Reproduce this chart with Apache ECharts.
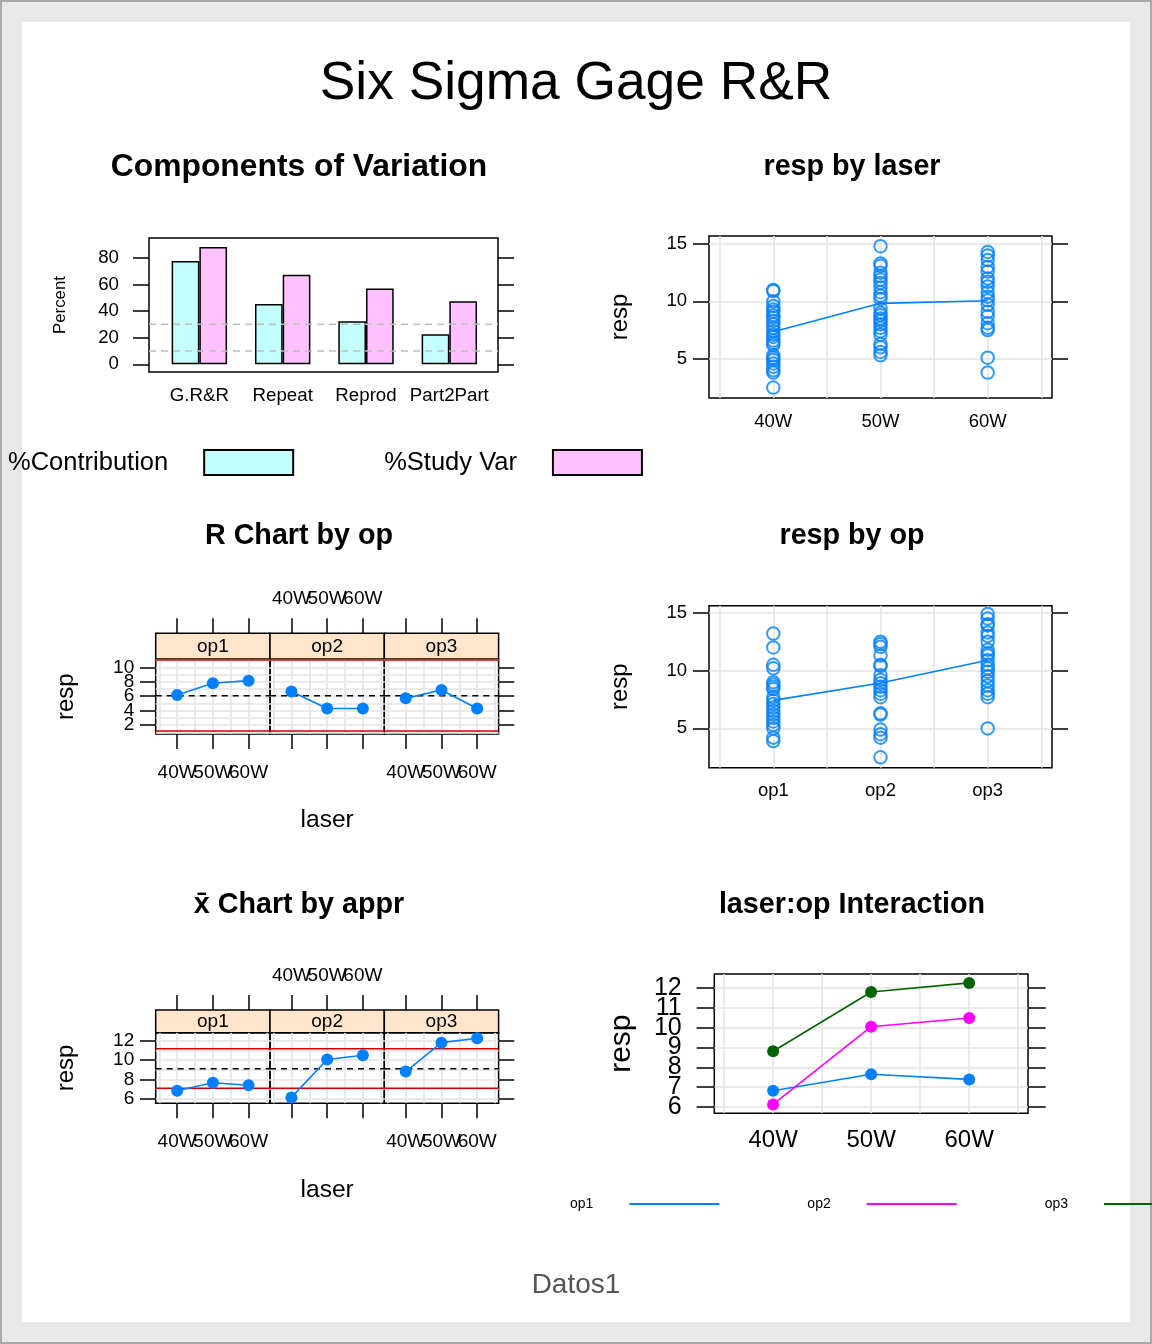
<!DOCTYPE html>
<html><head><meta charset="utf-8">
<script src="https://cdn.jsdelivr.net/npm/echarts@6/dist/echarts.min.js"></script>
<style>
html,body{margin:0;padding:0;background:#e8e8e8;overflow:hidden}
#frame{position:absolute;left:0;top:0;width:1152px;height:1344px;box-sizing:border-box;border:2px solid #a9a9a9;background:#e8e8e8}
#sheet{position:absolute;left:22px;top:22px;width:1108px;height:1300px;background:#fff}
#chart{position:absolute;left:0;top:0;width:1152px;height:1344px}
</style></head>
<body><div id="frame"></div><div id="sheet"></div><div id="chart"></div>
<script>
// ---------------- data ----------------
const componentCats = ['G.R&R', 'Repeat', 'Reprod', 'Part2Part'];
const contribution = [77.5, 45.2, 32.3, 22.5];
const studyVar = [88.0, 67.2, 56.8, 47.4];
const refLines = [10, 30];
const percentTicks = [0, 20, 40, 60, 80];

const lasers = ['40W', '50W', '60W'];
const ops = ['op1', 'op2', 'op3'];

const resp40W = [11.0, 10.9, 10.0, 9.6, 9.3, 9.1, 8.8, 8.6, 8.3, 8.0, 7.7, 7.4, 7.1, 6.9, 6.6, 6.4, 6.2, 5.3, 5.1, 4.9, 4.6, 4.3, 4.0, 3.8, 2.5];
const resp50W = [14.8, 13.3, 13.1, 12.5, 12.2, 11.9, 11.6, 11.2, 10.8, 10.5, 10.2, 9.4, 9.0, 8.8, 8.5, 8.3, 8.0, 7.7, 7.4, 7.1, 6.3, 6.0, 5.6, 5.3];
const resp60W = [14.3, 14.0, 13.6, 13.0, 12.6, 12.0, 11.7, 11.3, 10.8, 10.4, 10.1, 9.7, 9.1, 8.7, 8.1, 7.7, 7.5, 5.1, 3.8];
const laserMeans = [7.36, 9.83, 10.05];

const respOp1 = [13.2, 12.0, 10.5, 10.2, 9.0, 8.8, 8.6, 8.4, 7.7, 7.4, 7.1, 6.8, 6.5, 6.2, 5.9, 5.6, 5.3, 5.0, 4.2, 3.9];
const respOp2 = [12.5, 12.3, 12.05, 11.3, 10.5, 10.4, 9.6, 9.2, 8.9, 8.6, 8.3, 8.0, 7.7, 6.3, 6.2, 4.9, 4.5, 4.2, 2.5];
const respOp3 = [14.9, 14.5, 14.0, 13.9, 13.3, 13.0, 12.5, 11.8, 11.5, 11.3, 10.9, 10.5, 10.2, 9.9, 9.5, 9.1, 8.7, 8.3, 8.0, 7.7, 5.0];
const opMeans = [7.42, 8.93, 10.9];
const respTicks = [5, 10, 15];

const rangeOp1 = [6.15, 7.8, 8.15];
const rangeOp2 = [6.65, 4.3, 4.3];
const rangeOp3 = [5.7, 6.85, 4.3];
const rLimits = [1.17, 6.05, 11.0];   // LCL, center, UCL
const rTicks = [2, 4, 6, 8, 10];
const rGrid = [1, 2, 3, 4, 5, 6, 7, 8, 9, 10, 11];

const meanOp1 = [6.82, 7.65, 7.39];
const meanOp2 = [6.13, 10.05, 10.49];
const meanOp3 = [8.81, 11.8, 12.26];
const xbarLimits = [7.09, 9.1, 11.17]; // LCL, center, UCL
const xbarTicks = [6, 8, 10, 12];
const xbarGrid = [6, 7, 8, 9, 10, 11, 12];
const interTicks = [6, 7, 8, 9, 10, 11, 12];

const laserPos = [1, 2, 3];
const halfGrid = [0.5, 1, 1.5, 2, 2.5, 3, 3.5];

// ---------------- styling helpers ----------------
const FONT = "'Liberation Sans', Arial, Helvetica, sans-serif";
const BLUE = '#0080ff', MAGENTA = '#ff00ff', DKGREEN = '#006400', RED = '#cd0000', GRIDC = '#e3e3e3';
const CYAN = '#c4ffff', PINK = '#ffc2ff';

const grids = [], xAxis = [], yAxis = [], series = [], gfx = [];
function addGrid(l, t, w, h, extra) {
  grids.push(Object.assign({left: l, top: t, width: w, height: h, containLabel: false, outerBoundsMode: 'none', show: false}, extra || {}));
  return grids.length - 1;
}
function frameGrid(l, t, w, h, extra) {
  return addGrid(l, t, w, h, Object.assign({show: true, borderColor: '#000', borderWidth: 1.5, backgroundColor: 'transparent'}, extra || {}));
}
function baseAxis(g, min, max, o, labelVals) {
  const ax = {
    type: 'value', gridIndex: g, min: min, max: max,
    axisLine: {show: false, onZero: false},
    axisTick: {show: !!o.ticks, length: o.tickLen || 16, inside: false, lineStyle: {color: '#000', width: 1.5}},
    axisLabel: {show: !!labelVals, margin: o.margin || 8, fontSize: o.fs || 18, color: '#000', fontFamily: FONT,
      hideOverlap: false, showMinLabel: true, showMaxLabel: true},
    splitLine: {show: !!o.gridVals, lineStyle: {color: GRIDC, width: 1.5}}
  };
  const tv = o.ticks || o.gridVals;
  if (tv) ax.axisTick.customValues = tv;
  if (labelVals) ax.axisLabel.customValues = labelVals;
  if (o.fmt) ax.axisLabel.formatter = o.fmt;
  if (o.pos) ax.position = o.pos;
  return ax;
}
// labels are spread over two axes (alternating) so that touching labels are never auto-hidden
function addAxis(list, g, min, max, o) {
  o = o || {};
  const lv = o.labelVals;
  const even = lv ? lv.filter((v, i) => i % 2 === 0) : null;
  const odd = lv ? lv.filter((v, i) => i % 2 === 1) : [];
  const ax = baseAxis(g, min, max, o, even);
  if (o.name) {
    ax.name = o.name; ax.nameLocation = 'middle'; ax.nameGap = o.nameGap;
    if (o.nameRotate != null) ax.nameRotate = o.nameRotate;
    ax.nameTextStyle = {fontSize: o.nameFs, color: '#000', fontFamily: FONT};
  }
  list.push(ax);
  const idx = list.length - 1;
  if (odd.length) {
    list.push(baseAxis(g, min, max, {pos: o.pos, margin: o.margin, fs: o.fs, fmt: o.fmt}, odd));
  }
  return idx;
}
function text(x, y, str, size, weight, color) {
  gfx.push({type: 'text', x: x, y: y, z: 100, silent: true,
    style: {text: str, fill: color || '#000', fontSize: size, fontFamily: FONT, fontWeight: weight || 'normal', textAlign: 'center', textVerticalAlign: 'middle'}});
}
const laserFmt = v => lasers[Math.round(v) - 1];
const opFmt = v => ops[Math.round(v) - 1];

// ---------------- titles ----------------
text(576, 84, 'Six Sigma Gage R&R', 53.3);
text(299, 167, 'Components of Variation', 31.8, 'bold');
text(852, 167, 'resp by laser', 28.7, 'bold');
text(299, 536, 'R Chart by op', 28.7, 'bold');
text(852, 536, 'resp by op', 28.7, 'bold');
text(299, 905, 'x\u0304 Chart by appr', 28.7, 'bold');
text(852, 905, 'laser:op Interaction', 28.7, 'bold');
text(576, 1285, 'Datos1', 28, 'normal', '#555555');

// ---------------- components of variation ----------------
(function () {
  const yMin = -5.8, yMax = 94.8;
  const g = frameGrid(149, 238, 349, 134);
  const fx = addAxis(xAxis, g, 0, 1, {pos: 'bottom'});
  const fy = addAxis(yAxis, g, yMin, yMax, {pos: 'left', ticks: percentTicks, labelVals: percentTicks, margin: 30, fs: 18.7,
    name: 'Percent', nameGap: 80, nameRotate: 90, nameFs: 16.8});
  addAxis(yAxis, g, yMin, yMax, {pos: 'right', ticks: percentTicks});
  const b = addGrid(157.7, 238, 333.3, 134);
  xAxis.push({type: 'category', gridIndex: b, position: 'bottom', data: componentCats,
    axisLine: {show: false, onZero: false}, axisTick: {show: false},
    axisLabel: {interval: 0, margin: 14.6, fontSize: 18.7, color: '#000', fontFamily: FONT, showMinLabel: true, showMaxLabel: true},
    splitLine: {show: false}});
  const bx = xAxis.length - 1;
  const by = addAxis(yAxis, b, yMin, yMax, {pos: 'left'});
  series.push({type: 'bar', name: '%Contribution', xAxisIndex: bx, yAxisIndex: by, data: contribution, barWidth: 27.7, barGap: '0%',
    itemStyle: {color: CYAN, borderColor: '#000', borderWidth: 1.5}});
  series.push({type: 'bar', name: '%Study Var', xAxisIndex: bx, yAxisIndex: by, data: studyVar, barWidth: 27.7, barGap: '0%',
    itemStyle: {color: PINK, borderColor: '#000', borderWidth: 1.5}});
  refLines.forEach(v => series.push({type: 'line', xAxisIndex: fx, yAxisIndex: fy, data: [[0, v], [1, v]], symbol: 'none', z: 5,
    lineStyle: {color: '#bebebe', width: 1.5, type: [7, 5]}}));
})();

// ---------------- scatter panels ----------------
function scatterPanel(top, yMin, yMax, cats, fmt, groups, means) {
  const g = frameGrid(709, top, 343, 162);
  addAxis(xAxis, g, 0.4, 3.6, {pos: 'top', gridVals: halfGrid});
  const xl = addAxis(xAxis, g, 0.4, 3.6, {pos: 'bottom', labelVals: laserPos, fmt: fmt, margin: 14, fs: 18.5});
  const yl = addAxis(yAxis, g, yMin, yMax, {pos: 'left', ticks: respTicks, labelVals: respTicks, margin: 22, fs: 18.5,
    name: 'resp', nameGap: 77, nameRotate: 90, nameFs: 24});
  addAxis(yAxis, g, yMin, yMax, {pos: 'right', ticks: respTicks});
  addAxis(yAxis, g, yMin, yMax, {pos: 'right', gridVals: respTicks});
  groups.forEach((arr, i) => series.push({type: 'scatter', xAxisIndex: xl, yAxisIndex: yl, data: arr.map(v => [laserPos[i], v]),
    symbol: 'circle', symbolSize: 12.5, z: 3,
    itemStyle: {color: 'rgba(0,0,0,0)', borderColor: BLUE, borderWidth: 2}}));
  series.push({type: 'line', xAxisIndex: xl, yAxisIndex: yl, data: means.map((v, i) => [laserPos[i], v]), symbol: 'none', z: 4,
    lineStyle: {color: BLUE, width: 1.6}});
}
scatterPanel(236, 1.59, 15.69, lasers, laserFmt, [resp40W, resp50W, resp60W], laserMeans);
scatterPanel(605.7, 1.6, 15.61, ops, opFmt, [respOp1, respOp2, respOp3], opMeans);

// ---------------- control chart panels ----------------
function controlPanels(stripTop, stripH, panelTop, panelH, yMin, yMax, yTicks, yGrid, lims, dataByOp) {
  const lefts = [155.7, 270, 384.3], w = 114.3;
  ops.forEach((op, i) => {
    const s = frameGrid(lefts[i], stripTop, w, stripH, {backgroundColor: '#ffe5cc'});
    addAxis(xAxis, s, 0.4, 3.6, {pos: 'top', ticks: laserPos, tickLen: 15,
      labelVals: i === 1 ? laserPos : null, fmt: laserFmt, margin: 25, fs: 19});
    addAxis(yAxis, s, 0, 1, {pos: 'left'});
    text(lefts[i] + w / 2, stripTop + stripH / 2, op, 19);

    const g = frameGrid(lefts[i], panelTop, w, panelH);
    addAxis(xAxis, g, 0.4, 3.6, {pos: 'top', gridVals: halfGrid});
    const xb = addAxis(xAxis, g, 0.4, 3.6, {pos: 'bottom', ticks: laserPos, tickLen: 15,
      labelVals: i !== 1 ? laserPos : null, fmt: laserFmt, margin: 29, fs: 19,
      name: i === 1 ? 'laser' : null, nameGap: 74, nameFs: 24.6});
    addAxis(yAxis, g, yMin, yMax, {pos: 'right', gridVals: yGrid});
    const yv = addAxis(yAxis, g, yMin, yMax, {pos: 'left', ticks: i === 0 ? yTicks : null, labelVals: i === 0 ? yTicks : null,
      tickLen: 15.7, margin: 21.5, fs: 19, name: i === 0 ? 'resp' : null, nameGap: 77, nameRotate: 90, nameFs: 24});
    if (i === 2) addAxis(yAxis, g, yMin, yMax, {pos: 'right', ticks: yTicks, tickLen: 15.7});
    lims.forEach((v, k) => series.push({type: 'line', xAxisIndex: xb, yAxisIndex: yv, data: [[0.4, v], [3.6, v]], symbol: 'none', z: 3,
      lineStyle: k === 1 ? {color: '#000', width: 1.5, type: [6, 5]} : {color: RED, width: 1.5}}));
    series.push({type: 'line', xAxisIndex: xb, yAxisIndex: yv, data: dataByOp[i].map((v, j) => [laserPos[j], v]),
      symbol: 'circle', symbolSize: 12, z: 4, color: BLUE, itemStyle: {color: BLUE}, lineStyle: {color: BLUE, width: 1.6}});
  });
}
controlPanels(633.3, 26, 659.3, 74.7, 0.76, 11.11, rTicks, rGrid, rLimits, [rangeOp1, rangeOp2, rangeOp3]);
controlPanels(1010, 22.7, 1032.7, 70.6, 5.52, 12.83, xbarTicks, xbarGrid, xbarLimits, [meanOp1, meanOp2, meanOp3]);

// ---------------- interaction ----------------
(function () {
  const yMin = 5.68, yMax = 12.71;
  const g = frameGrid(714.3, 974, 313.7, 139.3);
  addAxis(xAxis, g, 0.4, 3.6, {pos: 'top', gridVals: halfGrid});
  const xl = addAxis(xAxis, g, 0.4, 3.6, {pos: 'bottom', labelVals: laserPos, fmt: laserFmt, margin: 14.7, fs: 24});
  const yl = addAxis(yAxis, g, yMin, yMax, {pos: 'left', ticks: interTicks, labelVals: interTicks, tickLen: 17.7, margin: 32.6, fs: 25,
    name: 'resp', nameGap: 77.6, nameRotate: 90, nameFs: 30});
  addAxis(yAxis, g, yMin, yMax, {pos: 'right', ticks: interTicks, tickLen: 17.7});
  addAxis(yAxis, g, yMin, yMax, {pos: 'right', gridVals: interTicks});
  const cols = [BLUE, MAGENTA, DKGREEN];
  [meanOp1, meanOp2, meanOp3].forEach((arr, i) => series.push({type: 'line', name: ops[i], xAxisIndex: xl, yAxisIndex: yl,
    data: arr.map((v, j) => [laserPos[j], v]), symbol: 'circle', symbolSize: 12, z: 4, color: cols[i],
    itemStyle: {color: cols[i]}, lineStyle: {color: cols[i], width: 1.6}}));
})();

const chart = echarts.init(document.getElementById('chart'), null, {renderer: 'canvas'});
chart.setOption({
  animation: false,
  backgroundColor: 'transparent',
  grid: grids, xAxis: xAxis, yAxis: yAxis, series: series,
  legend: [
    {data: ['%Contribution', '%Study Var'], left: 8, top: 449, width: 900, orient: 'horizontal', align: 'right', padding: 0,
      icon: 'rect', itemWidth: 89, itemHeight: 25, itemGap: 90, selectedMode: false,
      textStyle: {fontSize: 25.5, fontFamily: FONT, color: '#000', padding: [0, 31, 0, 0]}},
    {data: ['op1', 'op2', 'op3'], left: 570, top: 1197, width: 900, orient: 'horizontal', align: 'right', padding: 0, icon: 'rect',
      itemWidth: 90, itemHeight: 2, itemGap: 88, selectedMode: false,
      textStyle: {fontSize: 14, fontFamily: FONT, color: '#000', padding: [0, 31, 0, 0]}}
  ],
  graphic: {elements: gfx}
});
</script></body></html>
